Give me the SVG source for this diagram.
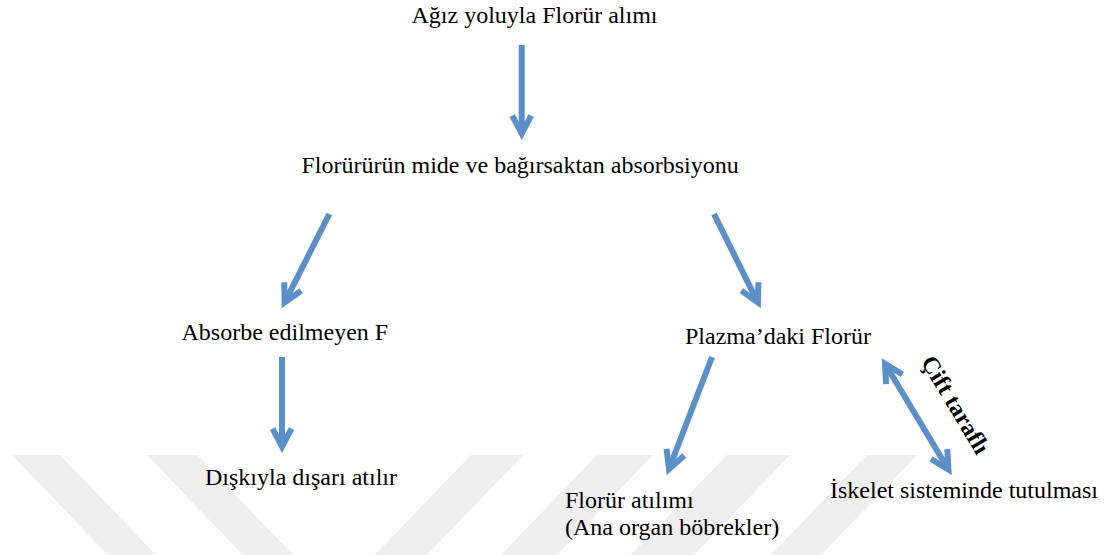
<svg xmlns="http://www.w3.org/2000/svg" width="1104" height="555" viewBox="0 0 1104 555">
<style>
  .t { font-family: "Liberation Serif", "Times New Roman", serif; font-size: 24px; fill: #000; }
  .b { font-weight: bold; }
  .wm { fill: #eeeeee; }
  .c { stroke: #5b8fca; stroke-width: 6; fill: none; }
</style>
<defs>
  <marker id="ah" markerUnits="userSpaceOnUse" markerWidth="30" markerHeight="24" refX="20" refY="12" orient="auto-start-reverse" overflow="visible">
    <path d="M 2 2.5 L 20 12 L 2 21.5" fill="none" stroke="#5b8fca" stroke-width="6" stroke-linejoin="miter" stroke-miterlimit="10"/>
  </marker>
</defs>
<rect width="1104" height="555" fill="#ffffff"/>
<g id="watermark">
  <polygon class="wm" points="12,455 60,455 156,555 108,555"/>
  <polygon class="wm" points="147,455 197,455 293,555 243,555"/>
  <polygon class="wm" points="471,455 523,455 427,555 375,555"/>
  <polygon class="wm" points="597,455 653,455 557,555 501,555"/>
  <polygon class="wm" points="727,455 790,455 694,555 631,555"/>
  <polygon class="wm" points="867,455 917,455 821,555 771,555"/>
</g>
<g id="connectors">
  <line class="c" x1="521.7" y1="45" x2="521.7" y2="133.6" marker-end="url(#ah)"/>
  <line class="c" x1="329.3" y1="214" x2="284.6" y2="302.6" marker-end="url(#ah)"/>
  <line class="c" x1="714" y1="214" x2="757.9" y2="302.6" marker-end="url(#ah)"/>
  <line class="c" x1="282" y1="357" x2="282" y2="446.6" marker-end="url(#ah)"/>
  <line class="c" x1="712" y1="357" x2="669" y2="469" marker-end="url(#ah)"/>
  <line class="c" x1="885" y1="363.8" x2="948.4" y2="469.5" marker-start="url(#ah)" marker-end="url(#ah)"/>
  <text class="t b" transform="translate(920.4,361.8) rotate(59)">Çift taraflı</text>
</g>
<g id="n1"><text class="t" x="411.5" y="23">Ağız yoluyla Florür alımı</text></g>
<g id="n2"><text class="t" x="301.5" y="173">Florürürün mide ve bağırsaktan absorbsiyonu</text></g>
<g id="n3"><text class="t" x="181.5" y="340">Absorbe edilmeyen F</text></g>
<g id="n4"><text class="t" x="685" y="344">Plazma’daki Florür</text></g>
<g id="n5"><text class="t" x="205" y="485">Dışkıyla dışarı atılır</text></g>
<g id="n6"><text class="t" x="565" y="508">Florür atılımı</text><text class="t" x="565" y="535">(Ana organ böbrekler)</text></g>
<g id="n7"><text class="t" x="830" y="498">İskelet sisteminde tutulması</text></g>
</svg>
